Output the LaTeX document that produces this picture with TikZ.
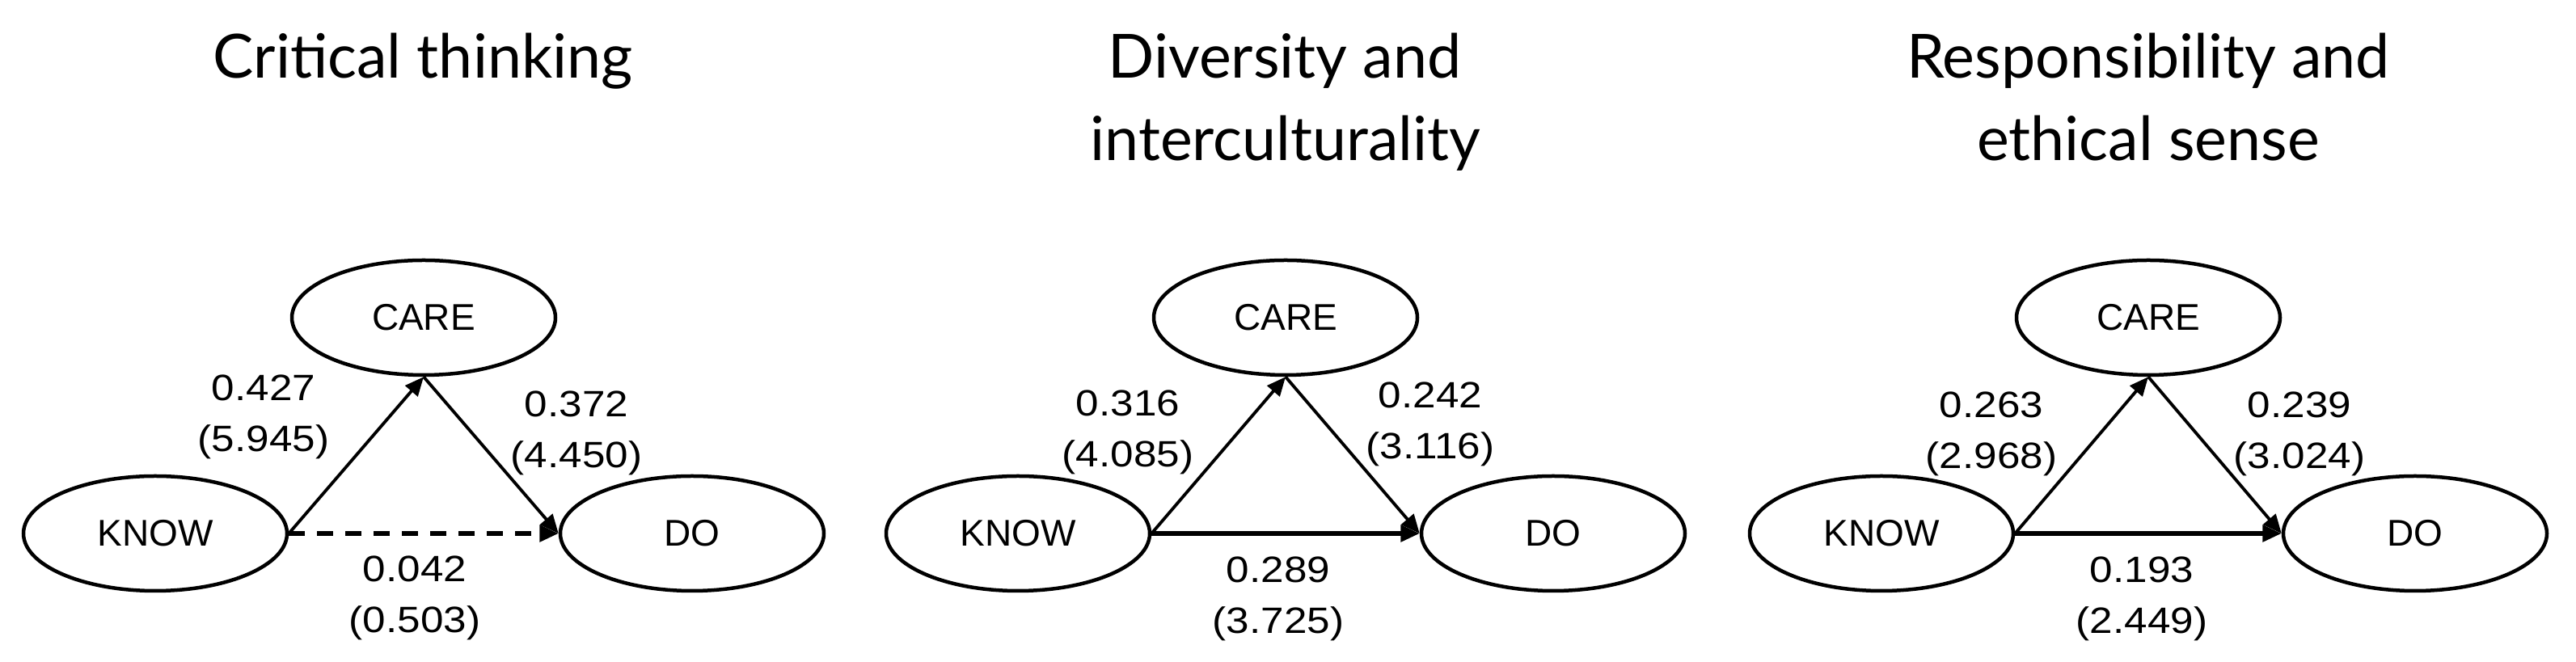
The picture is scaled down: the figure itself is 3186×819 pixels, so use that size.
\documentclass[tikz,border=0pt]{standalone}
\usepackage{fontspec}
\setmainfont{Liberation Sans}
\newfontfamily\titlefont{Lato}
\usetikzlibrary{shapes.geometric,arrows.meta}
\newcommand\wlab[1]{\scalebox{1.13}[1]{#1}}
\tikzset{
  ell/.style={ellipse, draw, line width=1.35pt, minimum width=97.8pt, minimum height=42.6pt, inner sep=0pt, font=\fontsize{13.8pt}{16pt}\selectfont},
  lab/.style={align=center, inner sep=0pt, font=\fontsize{13.6pt}{18.9pt}\selectfont},
  ttl/.style={anchor=base, inner sep=0pt, font=\titlefont\fontsize{22.6pt}{27pt}\selectfont},
  arr/.style={-{Triangle[length=7pt,width=6pt]}, line width=1.15pt},
  harr/.style={arr, line width=1.6pt},
  dsh/.style={harr, dash pattern=on 6pt off 4.5pt}
}
\begin{document}
\begin{tikzpicture}[x=0.3pt,y=-0.3pt]
\fill[white] (0,0) rectangle (3186,819);
\useasboundingbox (0,0) rectangle (3186,819);
% titles
\node[ttl] (t1) at (523,97) {Critical thinking};
\node[ttl] (t2a) at (1589,97) {Diversity and};
\node[ttl] (t2b) at (1590,199) {interculturality};
\node[ttl] (t3a) at (2657,97) {Responsibility and};
\node[ttl] (t3b) at (2657,199) {ethical sense};
% panel 1
\node[ell] (care1) at (524,393) {CARE};
\node[ell] (know1) at (192,660) {KNOW};
\node[ell] (do1) at (856,660) {DO};
\draw[arr] (know1.east) -- (care1.south);
\draw[arr] (care1.south) -- (do1.west);
\draw[dsh] (know1.east) -- (do1.west);
\node[lab] (l1a) at (326,516) {\wlab{0.427}\\\wlab{(5.945)}};
\node[lab] (l1b) at (713,536) {\wlab{0.372}\\\wlab{(4.450)}};
\node[lab] (l1c) at (513,740) {\wlab{0.042}\\\wlab{(0.503)}};
% panel 2
\node[ell] (care2) at (1590,393) {CARE};
\node[ell] (know2) at (1259,660) {KNOW};
\node[ell] (do2) at (1921,660) {DO};
\draw[arr] (know2.east) -- (care2.south);
\draw[arr] (care2.south) -- (do2.west);
\draw[harr] (know2.east) -- (do2.west);
\node[lab] (l2a) at (1395,535) {\wlab{0.316}\\\wlab{(4.085)}};
\node[lab] (l2b) at (1769,525) {\wlab{0.242}\\\wlab{(3.116)}};
\node[lab] (l2c) at (1581,741) {\wlab{0.289}\\\wlab{(3.725)}};
% panel 3
\node[ell] (care3) at (2657,393) {CARE};
\node[ell] (know3) at (2327,660) {KNOW};
\node[ell] (do3) at (2987,660) {DO};
\draw[arr] (know3.east) -- (care3.south);
\draw[arr] (care3.south) -- (do3.west);
\draw[harr] (know3.east) -- (do3.west);
\node[lab] (l3a) at (2463,537) {\wlab{0.263}\\\wlab{(2.968)}};
\node[lab] (l3b) at (2844,537) {\wlab{0.239}\\\wlab{(3.024)}};
\node[lab] (l3c) at (2649,741) {\wlab{0.193}\\\wlab{(2.449)}};
\end{tikzpicture}
\end{document}
